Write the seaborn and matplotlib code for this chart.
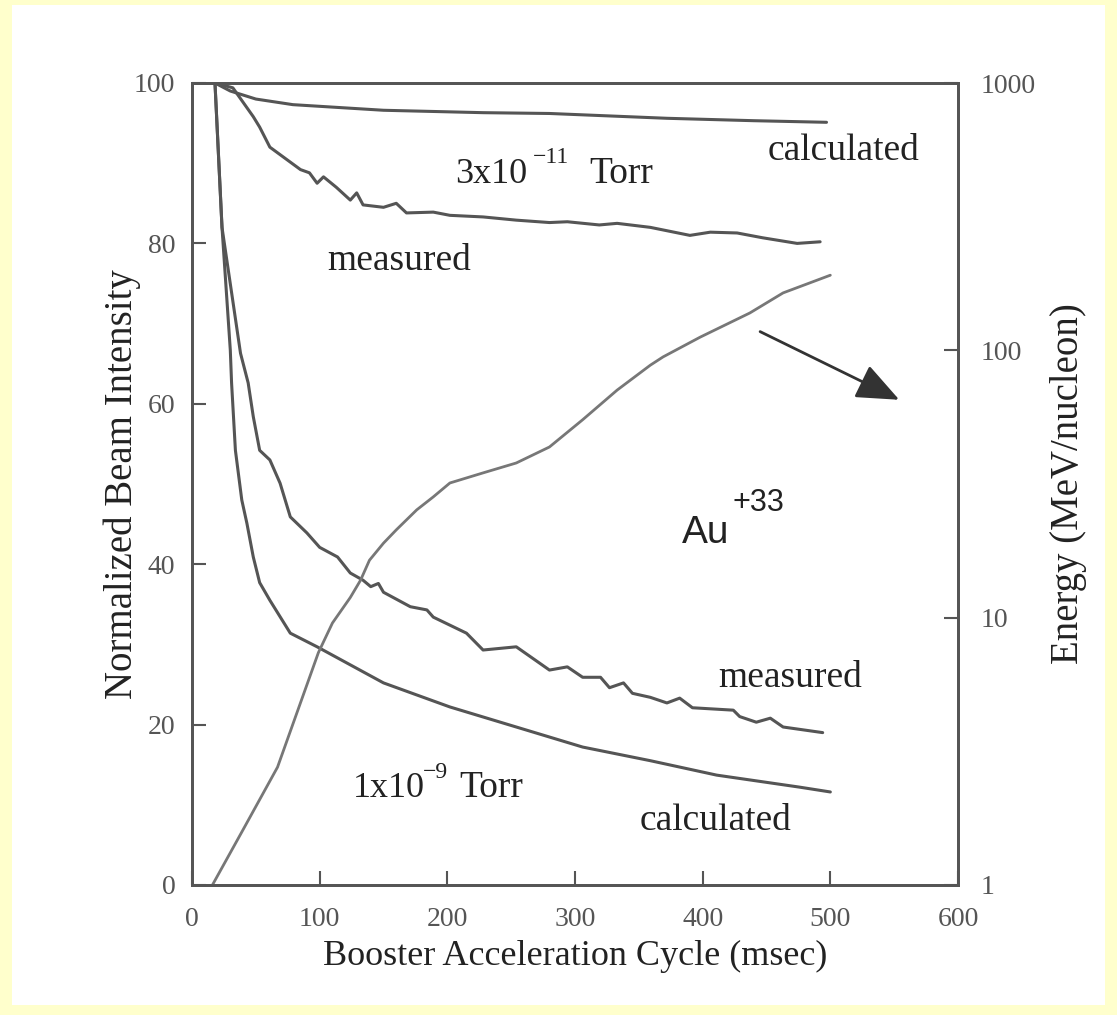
import numpy as np
import pandas as pd
import matplotlib
matplotlib.use("Agg")
import matplotlib.pyplot as plt
from matplotlib.patches import Rectangle
import seaborn as sns

# ---------------- data ----------------
calc_lo_x = [18, 30, 50, 79, 150, 228, 280, 372, 440, 497]
calc_lo_y = [100, 99.0, 98.0, 97.3, 96.6, 96.3, 96.2, 95.6, 95.3, 95.1]

meas_lo_x = [18, 32, 48, 53, 61, 85, 92, 98, 103, 113, 124, 129, 134, 150, 160, 168,
             189, 202, 228, 254, 280, 294, 319, 333, 359, 390, 406, 427, 447, 474, 492]
meas_lo_y = [100, 99.4, 95.8, 94.5, 92.0, 89.2, 88.8, 87.5, 88.3, 87.0, 85.4, 86.3, 84.8,
             84.5, 85.0, 83.8, 83.9, 83.5, 83.3, 82.9, 82.6, 82.7, 82.3, 82.5, 82.0, 81.0,
             81.4, 81.3, 80.7, 80.0, 80.2]

calc_hi_x = [18, 23.5, 30, 31, 34, 39, 43, 48, 53, 61, 77, 98, 150, 202, 254, 306,
             359, 411, 437, 476, 500]
calc_hi_y = [100, 82, 66.7, 62.6, 54.2, 48.0, 45.1, 40.9, 37.7, 35.5, 31.4, 29.7, 25.2,
             22.2, 19.7, 17.2, 15.5, 13.7, 13.1, 12.2, 11.6]

meas_hi_x = [18, 23.5, 38, 44, 48, 53, 61, 69, 77, 90, 100, 114, 124, 134, 140, 146,
             150, 171, 184, 189, 215, 228, 254, 280, 294, 306, 320, 327, 338, 345, 359,
             372, 382, 392, 424, 429, 442, 453, 463, 494]
meas_hi_y = [100, 82, 66.3, 62.6, 58.4, 54.2, 53.0, 50.1, 45.9, 43.9, 42.1, 40.9, 38.9,
             38.0, 37.2, 37.6, 36.5, 34.7, 34.3, 33.4, 31.4, 29.3, 29.7, 26.8, 27.2,
             25.9, 25.9, 24.6, 25.2, 23.9, 23.4, 22.7, 23.3, 22.1, 21.8, 21.0, 20.3,
             20.8, 19.7, 19.0]

energy_x = [16, 40, 67, 99, 110, 124, 132, 139, 150, 160, 176, 189, 202, 228, 254, 280,
            306, 333, 359, 369, 398, 437, 463, 500]
energy_y = [1.0, 1.61, 2.76, 7.4, 9.55, 11.9, 13.8, 16.4, 19.0, 21.3, 25.3, 28.3, 31.9,
            34.8, 37.9, 43.5, 55, 71, 88, 94.5, 112, 138, 164, 191]

x_ticks = [0, 100, 200, 300, 400, 500, 600]
y_ticks = [0, 20, 40, 60, 80, 100]
e_ticks = [1, 10, 100, 1000]
e_tick_labels = ["1", "10", "100", "1000"]

# ---------------- figure ----------------
sns.set_style("ticks")
plt.rcParams['font.family'] = ['Liberation Serif', 'DejaVu Serif']

W, H = 1117, 1015
fig = plt.figure(figsize=(W / 100, H / 100), dpi=100)
fig.patch.set_facecolor('#FFFFCC')
fig.add_artist(Rectangle((12 / W, 10 / H), (1105 - 12) / W, (1010 - 10) / H,
                         transform=fig.transFigure, facecolor='white',
                         edgecolor='none', zorder=-10))

ax = fig.add_axes([192 / W, (H - 885) / H, (958 - 192) / W, (885 - 83) / H])
ax.set_facecolor('none')
ax2 = ax.twinx()

line_col = '#555555'
for xs, ys in [(calc_lo_x, calc_lo_y), (meas_lo_x, meas_lo_y),
               (calc_hi_x, calc_hi_y), (meas_hi_x, meas_hi_y)]:
    df = pd.DataFrame({'t': xs, 'v': ys})
    sns.lineplot(data=df, x='t', y='v', ax=ax, color=line_col, lw=2.2,
                 sort=False, estimator=None)

dfe = pd.DataFrame({'t': energy_x, 'E': energy_y})
sns.lineplot(data=dfe, x='t', y='E', ax=ax2, color='#777777', lw=2.0,
             sort=False, estimator=None)

ax.set_xlim(0, 600)
ax.set_ylim(0, 100)
ax2.set_yscale('log')
ax2.set_ylim(1, 1000)

tick_col = '#555555'
ax.set_xticks(x_ticks)
ax.set_yticks(y_ticks)
ax.tick_params(axis='both', direction='in', length=10, width=1.5, color=tick_col,
               labelsize=20, labelcolor='#555555')
ax.tick_params(axis='x', pad=16, top=False)
ax.tick_params(axis='y', pad=12, right=False)
ax2.set_yticks(e_ticks)
ax2.set_yticklabels(e_tick_labels)
ax2.minorticks_off()
ax2.tick_params(axis='y', direction='in', length=10, width=1.5, color=tick_col,
                labelsize=20, labelcolor='#555555', pad=16)

for a in (ax, ax2):
    for s in a.spines.values():
        s.set_color('#555555')
        s.set_linewidth(2)

ax.set_xlabel('Booster Acceleration Cycle (msec)', fontsize=26, color='#222222')
ax.xaxis.set_label_coords(0.5, -0.068)
ax.set_ylabel('Normalized Beam Intensity', fontsize=28, color='#222222')
ax.yaxis.set_label_coords(-0.066, 0.5)
ax2.set_ylabel('Energy (MeV/nucleon)', fontsize=28, color='#222222')
ax2.yaxis.set_label_coords(1.12, 0.5)

# ---------------- annotations ----------------
tc = '#222222'
ax.text(451, 90.4, 'calculated', fontsize=27, color=tc, va='baseline')
ax.text(206, 87.5, '3x10', fontsize=26, color=tc, va='baseline')
ax.text(267, 90.0, '\u221211', fontsize=17, color=tc, va='baseline')
ax.text(311, 87.5, 'Torr', fontsize=27, color=tc, va='baseline')
ax.text(106, 76.7, 'measured', fontsize=27, color=tc, va='baseline')
ax.text(384, 42.6, 'Au', fontsize=28, color=tc, va='baseline', family='Liberation Sans')
ax.text(423, 46.6, '+33', fontsize=22, color=tc, va='baseline', family='Liberation Sans')
ax.text(412, 24.7, 'measured', fontsize=27, color=tc, va='baseline')
ax.text(126, 11.0, '1x10', fontsize=26, color=tc, va='baseline')
ax.text(181, 13.4, '\u22129', fontsize=17, color=tc, va='baseline')
ax.text(209, 11.0, 'Torr', fontsize=27, color=tc, va='baseline')
ax.text(351, 6.9, 'calculated', fontsize=27, color=tc, va='baseline')

ax.annotate('', xy=(554, 60.5), xytext=(445, 69.0),
            arrowprops=dict(arrowstyle='-|>,head_length=1.2,head_width=0.5',
                            color='#333333', lw=2, mutation_scale=22,
                            shrinkA=0, shrinkB=0))

fig.savefig('out.png', dpi=100, facecolor=fig.get_facecolor())
